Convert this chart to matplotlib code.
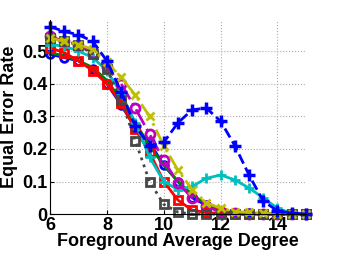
import matplotlib
matplotlib.use('Agg')
import matplotlib.pyplot as plt
import numpy as np

plt.rcParams['font.family'] = ['Liberation Sans', 'DejaVu Sans']
plt.rcParams['font.weight'] = 'bold'

degree = [6, 6.5, 7, 7.5, 8, 8.5, 9, 9.5, 10, 10.5, 11, 11.5, 12, 12.5, 13, 13.5, 14, 14.5, 15]

blue_o = [0.49, 0.48, 0.47, 0.445, 0.40, 0.335, 0.265, 0.22, 0.15, 0.10, 0.05, 0.027, 0.01, 0.004, 0.002, 0.001, 0, 0, 0]
green = [0.495, 0.485, 0.47, 0.45, 0.41, 0.35, 0.28, 0.21, 0.15, 0.10, 0.06, 0.03, 0.01, 0.004, 0.002, 0.001, 0, 0, 0]
red_s = [0.51, 0.495, 0.47, 0.44, 0.40, 0.34, 0.26, 0.19, 0.10, 0.043, 0.012, 0.005, 0.002, 0, 0, 0, 0, 0, 0]
cyan_p = [0.52, 0.515, 0.50, 0.48, 0.44, 0.37, 0.28, 0.175, 0.10, 0.075, 0.085, 0.11, 0.12, 0.105, 0.08, 0.05, 0.018, 0.003, 0]
mag_o = [0.545, 0.53, 0.52, 0.495, 0.45, 0.40, 0.325, 0.245, 0.165, 0.095, 0.05, 0.025, 0.005, 0.002, 0, 0, 0, 0, 0]
olive_x = [0.54, 0.53, 0.52, 0.505, 0.465, 0.42, 0.365, 0.30, 0.21, 0.135, 0.075, 0.035, 0.018, 0.008, 0.005, 0.003, 0, 0, 0]
gray_s = [0.54, 0.53, 0.52, 0.49, 0.445, 0.35, 0.225, 0.10, 0.03, 0.006, 0, 0, 0, 0, 0, 0, 0, 0, 0]
blue_p = [0.575, 0.56, 0.55, 0.53, 0.47, 0.375, 0.27, 0.21, 0.22, 0.28, 0.32, 0.325, 0.285, 0.21, 0.12, 0.04, 0.01, 0.003, 0]

fig = plt.figure(figsize=(3.38, 2.54), dpi=100)
ax = fig.add_axes([0.148, 0.157, 0.757, 0.764])

lw = 2
ms = 5.5
mew = 2
kw = dict(lw=lw, mew=mew, clip_on=False)
ax.plot(degree, blue_o, '-o', color='b', ms=ms, mfc='none', **kw)
ax.plot(degree, green, '-', color=(0, 0.5, 0), lw=lw, clip_on=False)
ax.plot(degree, red_s, '-s', color='r', ms=ms, mfc='none', **kw)
ax.plot(degree, cyan_p, '-+', color=(0, 0.75, 0.75), ms=ms + 2, **kw)
ax.plot(degree, mag_o, '-.o', color=(0.75, 0, 0.75), ms=ms + 1, mfc='none', **kw)
ax.plot(degree, gray_s, ':s', color=(0.28, 0.28, 0.28), ms=ms, mfc='none', **kw)
ax.plot(degree, olive_x, '-.x', color=(0.75, 0.75, 0), ms=ms, **kw)
ax.plot(degree, blue_p, '--+', color='b', ms=ms + 2.5, lw=lw, mew=mew + 0.5, clip_on=False)

ax.set_xlim(6, 15)
ax.set_ylim(0, 0.595)
ax.set_xticks([6, 8, 10, 12, 14])
ax.set_yticks([0, 0.1, 0.2, 0.3, 0.4, 0.5])
ax.set_yticklabels(['0', '0.1', '0.2', '0.3', '0.4', '0.5'])
ax.grid(True, linestyle=':', color='#aaaaaa', lw=0.8)
ax.set_axisbelow(True)
ax.spines['top'].set_visible(False)
ax.spines['right'].set_visible(False)
ax.tick_params(labelsize=13, length=3, direction='in', pad=2)
for lbl in ax.get_xticklabels() + ax.get_yticklabels():
    lbl.set_fontweight('bold')
ax.set_xlabel('Foreground Average Degree', fontsize=13, fontweight='bold', labelpad=-1)
ax.set_ylabel('Equal Error Rate', fontsize=13, fontweight='bold', labelpad=3)

fig.savefig('out.png', dpi=100)
